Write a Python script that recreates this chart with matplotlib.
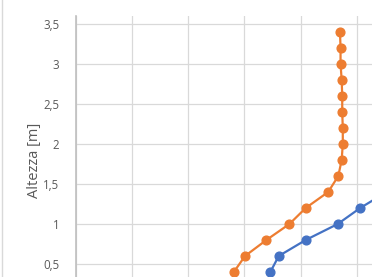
import matplotlib.pyplot as plt
from matplotlib.lines import Line2D
from matplotlib.ticker import FuncFormatter, MultipleLocator

# Dati (asse x in unità di griglia, scala non visibile)
altezza_arancio = [0.4, 0.6, 0.8, 1.0, 1.2, 1.4, 1.6, 1.8, 2.0, 2.2, 2.4, 2.6, 2.8, 3.0, 3.2, 3.4]
valori_arancio = [2.81, 3.01, 3.39, 3.80, 4.09, 4.49, 4.67, 4.73, 4.75, 4.75, 4.74, 4.74, 4.73, 4.71, 4.71, 4.70]

altezza_blu = [0.4, 0.6, 0.8, 1.0, 1.2, 1.4]
valori_blu = [3.46, 3.61, 4.09, 4.66, 5.06, 5.53]

y_ticks = [0.5, 1, 1.5, 2, 2.5, 3, 3.5]

plt.rcParams['font.family'] = ['Open Sans', 'DejaVu Sans']

fig = plt.figure(figsize=(3.72, 2.77), dpi=100)
W, H = 372, 277
# l'area del grafico continua oltre il bordo (immagine ritagliata)
ax = fig.add_axes([76 / W, -27 / H, 337 / W, 288 / H])

ax.plot(valori_blu, altezza_blu, marker='o', color='#4472C4', lw=1.6, ms=6.3, zorder=3)
ax.plot(valori_arancio, altezza_arancio, marker='o', color='#ED7D31', lw=1.6, ms=6.3, zorder=3)

ax.set_xlim(0, 6)
ax.set_ylim(0, 3.6)
ax.xaxis.set_major_locator(MultipleLocator(1))
ax.set_yticks(y_ticks)
ax.yaxis.set_major_formatter(FuncFormatter(lambda v, p: ('%g' % v).replace('.', ',')))
ax.grid(True, color='#d9d9d9', lw=0.9)
ax.set_axisbelow(True)
ax.tick_params(length=0, labelsize=8.3, labelcolor='#595959', pad=12)
ax.tick_params(axis='x', labelbottom=False)
for s in ['top', 'right', 'bottom']:
    ax.spines[s].set_visible(False)
ax.spines['left'].set_color('#bfbfbf')
ax.spines['left'].set_linewidth(1.2)

ax.set_ylabel('Altezza [m]', fontsize=10.5, color='#595959', labelpad=1)

# bordo grigio a sinistra
fig.add_artist(Line2D([1.5 / W, 1.5 / W], [0, 1], color='#d9d9d9', lw=1))

fig.savefig('out.png', dpi=100)
